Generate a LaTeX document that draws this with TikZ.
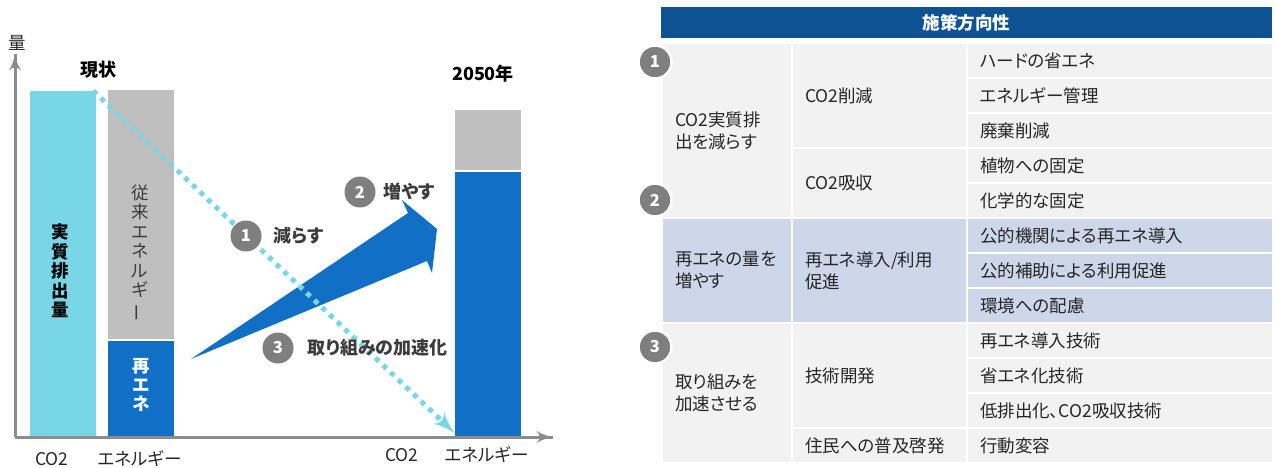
\documentclass[tikz,border=0pt]{standalone}
\usepackage{fontspec}
\usepackage{graphicx}
\setmainfont{Noto Sans CJK JP}[RawFeature=+palt]
\usetikzlibrary{arrows}
\usetikzlibrary{decorations.markings}
\usetikzlibrary{positioning}
\tikzset{endtip/.style = {decoration={markings,
                                  mark=at position 1 with {\arrow[scale=#1]{latex'}}},
                      postaction={decorate}}}
\definecolor{cyanbar}{RGB}{120,214,230}
\definecolor{greybar}{RGB}{191,191,191}
\definecolor{renblue}{RGB}{17,112,198}
\definecolor{axisgrey}{RGB}{140,140,140}
\definecolor{badgegrey}{RGB}{127,127,127}
\definecolor{headblue}{RGB}{14,82,148}
\definecolor{rowgrey}{RGB}{242,242,242}
\definecolor{rowblue}{RGB}{206,214,234}
\definecolor{textdark}{RGB}{38,38,38}
\definecolor{labeldark}{RGB}{60,60,60}

\begin{document}
\begin{tikzpicture}[x=1pt, y=-1pt,
    bar/.style = {inner sep=0, minimum width=66},
    vtext/.style = {align=center, inner sep=0, font=\fontsize{17.5}{19.5}\selectfont},
    axisline/.style = {axisgrey, line width=3},
    dotline/.style = {cyanbar, line width=5, dash pattern=on 5pt off 5.5pt, shorten >=10pt},
    badge/.style = {circle, fill=badgegrey, text=white, inner sep=0, minimum size=31,
                    font=\bfseries\fontsize{16.5}{16.5}\selectfont},
    tbadge/.style = {badge, draw=white, line width=2.5, minimum size=33},
    sublabel/.style = {inner sep=0, text=labeldark, font=\bfseries\fontsize{18}{18}\selectfont},
    axlabel/.style = {inner sep=0, text=textdark, font=\fontsize{17.5}{17.5}\selectfont},
    cell/.style = {anchor=north west, draw=white, line width=2, inner xsep=13, inner ysep=0,
                   align=left, text=textdark, font=\fontsize{17.5}{22}\selectfont},
    c1/.style = {cell, text width=104},
    c2/.style = {cell, text width=149},
    c3/.style = {cell, text width=280, minimum height=35}]
  \useasboundingbox (0,0) rectangle (1274,468);

  % chart
  \coordinate (orig) at (15,437);
  \coordinate (xend) at (553,437);
  \coordinate (yend) at (15,54);

  \node[bar, fill=cyanbar, minimum height=346] (co2now) at (63,264) {};
  \node[bar, fill=greybar, minimum height=249] (ennowg) at (141,214.5) {};
  \node[bar, fill=renblue, minimum height=96] (ennowb) at (141,389) {};
  \node[bar, fill=greybar, minimum height=60] (en2050g) at (488,140) {};
  \node[bar, fill=renblue, minimum height=265] (en2050b) at (488,304.5) {};

  \draw[axisline, endtip=1.4] (orig) -- (xend);
  \draw[axisline, endtip=1.4] (orig) -- (yend);

  \node[vtext, font=\bfseries\fontsize{17.5}{19.5}\selectfont] (co2txt) at (60,271) {実\\質\\排\\出\\量};
  \node[vtext, text=labeldark] (fosstxt) at (140,253) {従\\来\\エ\\ネ\\ル\\ギ\\\rotatebox[origin=c]{90}{ー}};
  \node[vtext, text=white, font=\bfseries\fontsize{17.5}{19}\selectfont] (rentxt) at (141,385) {再\\エ\\ネ};

  \fill[renblue] (191,359) -- (408,213) -- (402,200) -- (437,229) -- (432,273) -- (427,261) -- cycle;

  \draw[dotline, endtip=1.25] ([xshift=-3]co2now.north east) -- ([yshift=4]en2050b.south west);

  \node[axlabel] (qty) at (17,43) {量};
  \node[sublabel, text=black] (now) at (98,70) {現状};
  \node[sublabel, text=black] (y2050) at (483,74) {2050年};
  \node[axlabel] (l1) at (52,459) {CO2};
  \node[axlabel] (l2) at (140,459) {エネルギー};
  \node[axlabel] (l3) at (402,455) {CO2};
  \node[axlabel] (l4) at (487,455) {エネルギー};

  \node[badge] (b1) at (246,236) {1};
  \node[sublabel, right=12pt of b1] (t1) {減らす};
  \node[badge] (b2) at (360,192) {2};
  \node[sublabel, right=8pt of b2] (t2) {増やす};
  \node[badge] (b3) at (278,348) {3};
  \node[sublabel, right=14pt of b3] (t3) {取り組みの加速化};

  % table
  \node[anchor=north west, fill=headblue, text=white, inner sep=0, minimum width=611, minimum height=31,
        font=\bfseries\fontsize{17.5}{17.5}\selectfont] (head) at (661,7) {施策方向性};

  \node[c1, fill=rowgrey, minimum height=175] (g1) at (661,42) {CO2実質排\\出を減らす};
  \node[c1, fill=rowblue, minimum height=105] (g2) at (661,217) {再エネの量を\\増やす};
  \node[c1, fill=rowgrey, minimum height=140] (g3) at (661,322) {取り組みを\\加速させる};

  \node[c2, fill=rowgrey, minimum height=105] (m1) at (791,42) {CO2削減};
  \node[c2, fill=rowgrey, minimum height=70] (m2) at (791,147) {CO2吸収};
  \node[c2, fill=rowblue, minimum height=105] (m3) at (791,217) {再エネ導入/利用\\促進};
  \node[c2, fill=rowgrey, minimum height=105] (m4) at (791,322) {技術開発};
  \node[c2, fill=rowgrey, minimum height=35] (m5) at (791,427) {住民への普及啓発};

  \node[c3, fill=rowgrey] (r1) at (966,42) {ハードの省エネ};
  \node[c3, fill=rowgrey] (r2) at (966,77) {エネルギー管理};
  \node[c3, fill=rowgrey] (r3) at (966,112) {廃棄削減};
  \node[c3, fill=rowgrey] (r4) at (966,147) {植物への固定};
  \node[c3, fill=rowgrey] (r5) at (966,182) {化学的な固定};
  \node[c3, fill=rowblue] (r6) at (966,217) {公的機関による再エネ導入};
  \node[c3, fill=rowblue] (r7) at (966,252) {公的補助による利用促進};
  \node[c3, fill=rowblue] (r8) at (966,287) {環境への配慮};
  \node[c3, fill=rowgrey] (r9) at (966,322) {再エネ導入技術};
  \node[c3, fill=rowgrey] (r10) at (966,357) {省エネ化技術};
  \node[c3, fill=rowgrey] (r11) at (966,392) {低排出化、CO2吸収技術};
  \node[c3, fill=rowgrey] (r12) at (966,427) {行動変容};

  \node[tbadge] (tb1) at (655,62) {1};
  \node[tbadge] (tb2) at (655,200) {2};
  \node[tbadge] (tb3) at (655,347) {3};
\end{tikzpicture}
\end{document}
